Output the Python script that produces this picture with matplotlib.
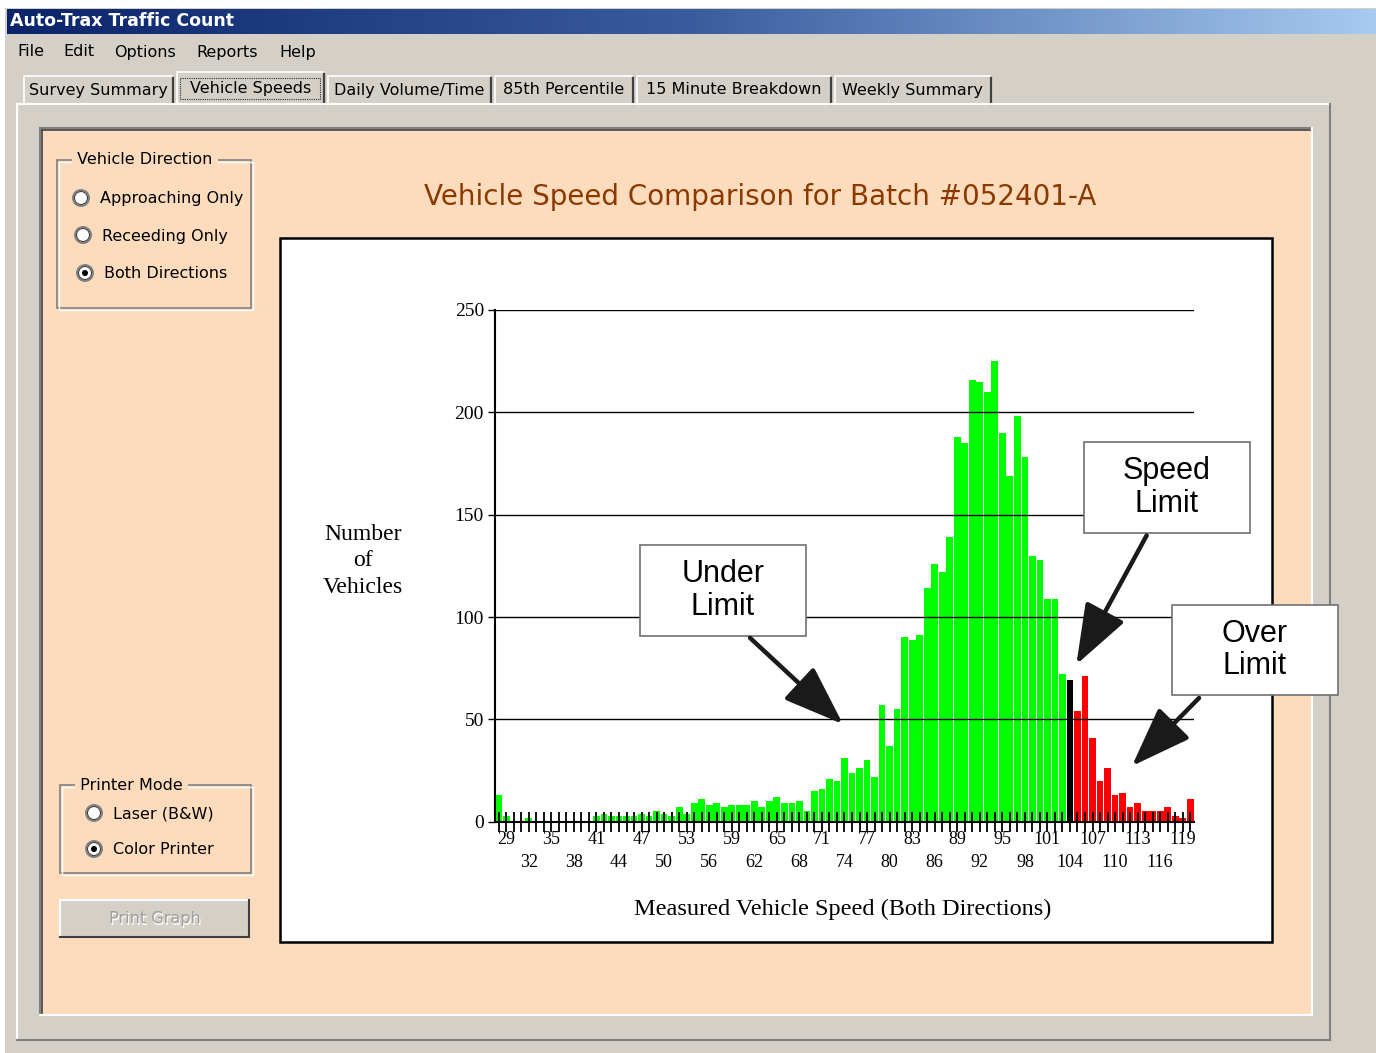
import numpy as np
import matplotlib.pyplot as plt
from matplotlib.patches import Rectangle, Circle, FancyArrowPatch
from matplotlib.colors import LinearSegmentedColormap

# measured speeds (mph) and number of vehicles per speed
speeds = list(range(28, 121))
counts = [13, 3, 0, 0, 2, 0, 0, 0, 0, 0, 0, 0, 0,
          3, 4, 3, 3, 3, 3, 4, 3, 5, 4, 3, 7, 4,
          9, 11, 8, 9, 7, 8, 8, 8, 10, 7, 10, 12, 9, 9, 10, 5,
          15, 16, 21, 20, 31, 24, 26, 30, 22, 57, 37, 55,
          90, 89, 91, 114, 126, 122, 139, 188, 185, 216, 215, 210, 225,
          190, 169, 198, 178, 130, 128, 109, 109, 72,
          69,
          54, 71, 41, 20, 26, 13, 14, 7, 9, 5, 5, 5, 7, 3, 2, 11]
speed_limit = 104
top_row_speeds = list(range(29, 120, 6))     # 29, 35, ... 119
bottom_row_speeds = list(range(32, 120, 6))  # 32, 38, ... 116
y_ticks = [0, 50, 100, 150, 200, 250]

menu_items = ['File', 'Edit', 'Options', 'Reports', 'Help']
menu_x = [17, 63, 114, 196, 279]
tab_names = ['Survey Summary', 'Vehicle Speeds', 'Daily Volume/Time', '85th Percentile',
             '15 Minute Breakdown', 'Weekly Summary']
tab_edges = [22, 175, 326, 493, 635, 833, 993]

W, H = 1376, 1053
GRAY = '#D4D0C8'
PEACH = '#FDDCBD'
UI_FONT = 'DejaVu Sans'
SERIF = 'Liberation Serif'

fig = plt.figure(figsize=(W / 100, H / 100), dpi=100)
fig.patch.set_facecolor('white')

# ---- window frame drawn in pixel coordinates ----
ui = fig.add_axes([0, 0, 1, 1])
ui.axis('off')

ui.add_patch(Rectangle((5, 8), W - 5, H - 8, fc=GRAY, ec='none'))
grad = np.linspace(0, 1, 256).reshape(1, -1)
cmap = LinearSegmentedColormap.from_list('tb', ['#0A246A', '#3A5C9E', '#A6CAF0'])
ui.imshow(grad, cmap=cmap, extent=[7, W, 34, 9], aspect='auto', zorder=2)
ui.set_xlim(0, W)
ui.set_ylim(H, 0)
ui.text(10, 21, 'Auto-Trax Traffic Count', color='white', fontsize=12.5,
        fontweight='bold', family=UI_FONT, va='center', zorder=3)

for name, x in zip(menu_items, menu_x):
    ui.text(x, 52, name, fontsize=11.5, family=UI_FONT, va='center')

# tabs
for i, name in enumerate(tab_names):
    x0, x1 = tab_edges[i], tab_edges[i + 1]
    top = 72 if i == 1 else 76
    ui.plot([x0 + 2, x0 + 2], [104, top + 2], color='white', lw=1.2)
    ui.plot([x0 + 2, x1 - 3], [top, top], color='white', lw=1.2)
    ui.plot([x1 - 2, x1 - 2], [top + 2, 104], color='#404040', lw=1.6)
    ui.text((x0 + x1) / 2, 90 if i != 1 else 88, name, fontsize=11.5, family=UI_FONT,
            ha='center', va='center')
ui.add_patch(Rectangle((180, 78), 140, 21, fc='none', ec='#303030', lw=0.8, ls=(0, (1, 1))))

# tab page
ui.plot([17, 1330], [104, 104], color='white', lw=1.5)
ui.plot([17, 17], [104, 1040], color='white', lw=1.5)
ui.plot([1330, 1330], [104, 1040], color='#808080', lw=1.5)
ui.plot([17, 1330], [1040, 1040], color='#808080', lw=1.5)

# peach panel with sunken border
ui.add_patch(Rectangle((40, 128), 1272, 887, fc=PEACH, ec='none'))
ui.plot([40, 1312], [128, 128], color='#808080', lw=1.5)
ui.plot([40, 40], [128, 1015], color='#808080', lw=1.5)
ui.plot([42, 1310], [130, 130], color='#404040', lw=1.2)
ui.plot([42, 42], [130, 1013], color='#404040', lw=1.2)
ui.plot([40, 1312], [1015, 1015], color='white', lw=1.5)
ui.plot([1312, 1312], [128, 1015], color='white', lw=1.5)


def group_box(x0, y0, x1, y1, title):
    ui.add_patch(Rectangle((x0, y0), x1 - x0, y1 - y0, fc='none', ec='#808080', lw=1.2))
    ui.add_patch(Rectangle((x0 + 1.5, y0 + 1.5), x1 - x0, y1 - y0, fc='none', ec='white', lw=1.0))
    ui.text(x0 + 15, y0, ' ' + title + ' ', fontsize=11.5, family=UI_FONT, va='center',
            bbox=dict(fc=PEACH, ec='none', pad=0))


def radio(x, y, label, checked):
    ui.add_patch(Circle((x, y), 8, fc='white', ec='#808080', lw=1.4))
    ui.add_patch(Circle((x, y), 6.5, fc='white', ec='#404040', lw=0.8))
    if checked:
        ui.add_patch(Circle((x, y), 3, fc='black', ec='none'))
    ui.text(x + 19, y + 1, label, fontsize=11.5, family=UI_FONT, va='center')


group_box(57, 160, 251, 308, 'Vehicle Direction')
radio(81, 198, 'Approaching Only', False)
radio(83, 235, 'Receeding Only', False)
radio(85, 273, 'Both Directions', True)

group_box(60, 785, 251, 873, 'Printer Mode')
radio(94, 813, 'Laser (B&W)', False)
radio(94, 849, 'Color Printer', True)

# disabled button
ui.add_patch(Rectangle((60, 900), 189, 37, fc=GRAY, ec='none'))
ui.plot([60, 249], [900, 900], color='white', lw=1.5)
ui.plot([60, 60], [900, 937], color='white', lw=1.5)
ui.plot([60, 249], [937, 937], color='#404040', lw=1.5)
ui.plot([249, 249], [900, 937], color='#404040', lw=1.5)
ui.text(156, 920, 'Print Graph', fontsize=11.5, family=UI_FONT, ha='center', va='center',
        color='white')
ui.text(155, 919, 'Print Graph', fontsize=11.5, family=UI_FONT, ha='center', va='center',
        color='#A0A0A0')

# chart title and white chart box
ui.text(760, 197, 'Vehicle Speed Comparison for Batch #052401-A', fontsize=20,
        family=UI_FONT, color='#8A3A00', ha='center', va='center')
ui.add_patch(Rectangle((280, 238), 992, 704, fc='white', ec='black', lw=1.8))

# ---- the bar chart ----
ax = fig.add_axes([495 / W, 1 - 821.7 / H, 699 / W, 511.7 / H])
ax.patch.set_alpha(0)
colors = ['#00FF00' if s < speed_limit else ('black' if s == speed_limit else '#FF0000')
          for s in speeds]
ax.bar(speeds, counts, width=0.9, color=colors, linewidth=0)
ax.set_xlim(speeds[0] - 0.5, speeds[-1] + 0.5)
ax.set_ylim(0, 250)

ax.set_yticks(y_ticks)
ax.set_yticklabels([str(v) for v in y_ticks], fontsize=14, family=SERIF)
ax.grid(axis='y', color='black', lw=1)

# a tick at every speed; labels alternate between two rows
ax.set_xticks(top_row_speeds)
ax.set_xticklabels([str(s) for s in top_row_speeds], fontsize=13, family=SERIF)
minor_speeds = [s for s in speeds if s not in top_row_speeds]
ax.set_xticks(minor_speeds, minor=True)
ax.set_xticklabels([str(s) if s in bottom_row_speeds else '' for s in minor_speeds],
                   minor=True, fontsize=13, family=SERIF)
ax.tick_params(axis='x', which='both', direction='inout', length=14, width=1.3)
ax.tick_params(axis='x', which='major', pad=0)
ax.tick_params(axis='x', which='minor', pad=16.5)
ax.tick_params(axis='y', direction='out', length=5, width=1, pad=3)
for side in ['top', 'right']:
    ax.spines[side].set_visible(False)
ax.spines['left'].set_linewidth(1.5)
ax.spines['bottom'].set_linewidth(1.5)

ax.set_ylabel('Number\nof\nVehicles', rotation=0, fontsize=17, family=SERIF,
              ha='center', va='center', linespacing=1.35)
ax.yaxis.set_label_coords(-0.189, 0.51)
ax.set_xlabel('Measured Vehicle Speed (Both Directions)', fontsize=17.5, family=SERIF)
ax.xaxis.set_label_coords(0.498, -0.15)

# ---- callouts on top ----
top = fig.add_axes([0, 0, 1, 1])
top.axis('off')
top.set_xlim(0, W)
top.set_ylim(H, 0)


def callout(x0, y0, x1, y1, text, tail, tip):
    top.add_patch(Rectangle((x0, y0), x1 - x0, y1 - y0, fc='white', ec='#707070', lw=1.2))
    top.text((x0 + x1) / 2, (y0 + y1) / 2, text, fontsize=22, family='Liberation Sans',
             ha='center', va='center', linespacing=1.1)
    top.add_patch(FancyArrowPatch(tail, tip, arrowstyle='-|>,head_length=1.7,head_width=0.62',
                                  mutation_scale=22, lw=3.2, color='#1A1A1A'))


callout(640, 545, 806, 636, 'Under\nLimit', (748, 636), (845, 726))
callout(1084, 442, 1250, 533, 'Speed\nLimit', (1148, 533), (1075, 667))
callout(1172, 605, 1338, 695, 'Over\nLimit', (1201, 696), (1130, 768))

fig.savefig('out.png', dpi=100)
